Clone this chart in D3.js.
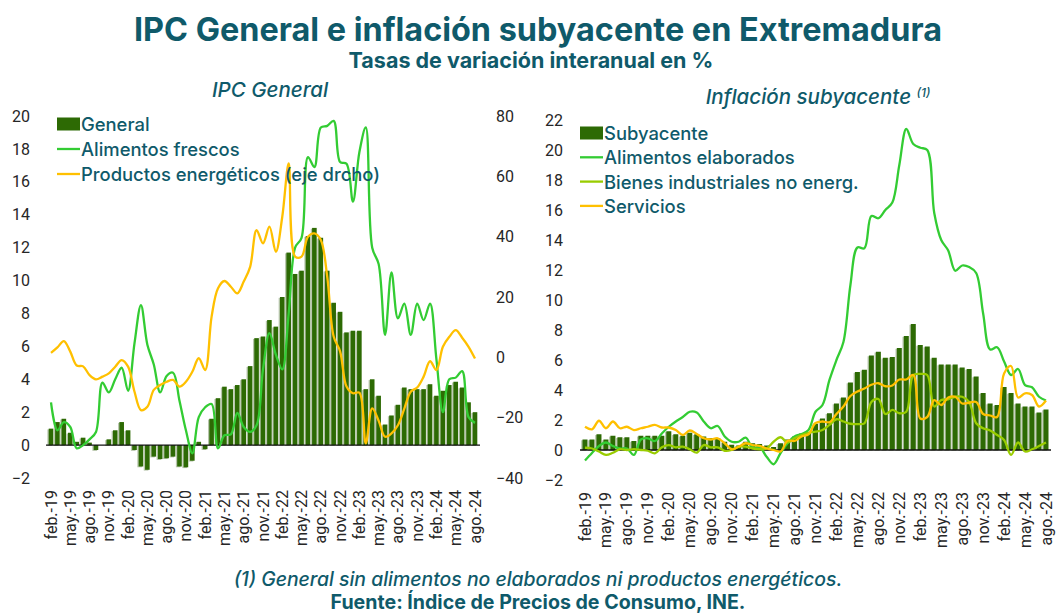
<!DOCTYPE html>
<html>
<head>
<meta charset="utf-8">
<script src="https://cdn.jsdelivr.net/npm/d3@7"></script>
<style>
  body { margin: 0; background: #fff; }
  svg { display: block; }
  .teal { fill: #0f5a6a; font-family: Inter, 'Open Sans', sans-serif; }
  .tick-y { font-family: Roboto, sans-serif; font-size: 16px; fill: #262626; }
  .tick-x { font-family: Roboto, sans-serif; font-size: 16px; fill: #262626; }
</style>
</head>
<body>
<div id="chart"></div>
<script>
// Categories: feb.-19 ... ago.-24 (monthly)
const monthNames = ['ene.', 'feb.', 'mar.', 'abr.', 'may.', 'jun.', 'jul.', 'ago.', 'sep.', 'oct.', 'nov.', 'dic.'];
const months = [];
for (let y = 19; y <= 24; y++) {
    monthNames.forEach((m, i) => {
        if ((y === 19 && i < 1) || (y === 24 && i > 7)) return;
        months.push(m + '-' + y);
    });
}
const tickLabels = ['feb.-19', 'may.-19', 'ago.-19', 'nov.-19', 'feb.-20', 'may.-20', 'ago.-20', 'nov.-20',
    'feb.-21', 'may.-21', 'ago.-21', 'nov.-21', 'feb.-22', 'may.-22', 'ago.-22', 'nov.-22',
    'feb.-23', 'may.-23', 'ago.-23', 'nov.-23', 'feb.-24', 'may.-24', 'ago.-24'];

// IPC General panel
const general = [1.0, 1.4, 1.6, 0.75, 0.2, 0.45, 0.15, -0.3, 0.0, 0.35, 0.9, 1.4, 0.9, -0.3, -1.3, -1.5, -0.7, -0.85, -0.8, -0.7,
    -1.3, -1.35, -0.95, 0.2, -0.25, 1.6, 2.85, 3.55, 3.4, 3.65, 4.0, 4.8, 6.5, 6.6, 7.6, 7.2, 9.0, 11.7, 10.4, 10.6,
    12.7, 13.2, 12.6, 10.6, 8.65, 8.1, 6.85, 6.95, 6.95, 3.4, 4.0, 3.0, 1.25, 1.8, 2.45, 3.5, 3.4, 3.4, 3.4, 3.7,
    3.0, 3.3, 3.65, 3.85, 3.5, 2.6, 2.0];
const frescos = [2.6, 0.9, 1.4, 1.1, -0.2, 0.0, 0.35, 0.8, 3.8, 3.2, 4.0, 4.7, 3.3, 6.2, 8.5, 6.1, 4.9, 3.2, 4.2, 4.4,
    2.7, 0.9, -0.5, 1.7, 2.3, 2.5, -0.2, 0.6, 0.65, 1.95, 1.1, 0.8, 1.2, 4.6, 6.8, 5.5, 4.6, 8.0, 12.0, 12.6,
    17.5, 16.9, 19.3, 19.4, 19.7, 17.2, 17.1, 14.8, 17.8, 19.3, 12.0, 11.0, 6.7, 10.5, 7.7, 8.6, 6.7, 8.6, 7.6, 8.6,
    5.2, 2.0, 4.0, 4.1, 4.5, 1.7, 1.35];
const energeticos = [1.5, 3.3, 5.4, 1.9, -2.7, -3.0, -5.9, -7.3, -6.4, -5.3, -3.1, -0.9, -3.1, -11.4, -17.5, -16.4, -10.8, -9.2, -8.1, -7.5,
    -9.7, -8.1, -4.8, -0.3, -4.2, 13.5, 22.9, 25.3, 23.4, 21.2, 25.1, 30.0, 42.2, 37.8, 43.3, 35.0, 46.6, 64.3, 33.4, 33.4,
    40.0, 41.1, 38.9, 26.7, 6.9, 2.0, -9.7, -11.9, -11.7, -28.5, -16.9, -21.0, -26.3, -25.2, -22.5, -17.0, -11.4, -10.0, -6.4, -1.3,
    -4.2, 3.5, 6.8, 9.0, 6.5, 3.5, -0.4];

// Inflación subyacente panel
const subyacente = [0.7, 0.7, 1.05, 0.7, 0.95, 0.85, 0.85, 0.6, 0.95, 0.95, 0.95, 0.95, 1.25, 1.05, 0.95, 1.15, 1.05, 0.9, 0.8, 0.8,
    0.55, 0.35, 0.3, 0.55, 0.45, 0.4, 0.3, 0.2, 0.45, 0.7, 0.9, 1.1, 1.2, 1.75, 2.1, 2.45, 3.1, 3.5, 4.5, 5.2,
    5.35, 6.3, 6.55, 6.15, 6.2, 6.8, 7.6, 8.4, 7.0, 6.9, 6.15, 5.7, 5.7, 5.7, 5.5, 5.4, 4.9, 3.8, 3.1, 3.0,
    4.2, 3.8, 3.1, 2.9, 2.9, 2.5, 2.7];
const elaborados = [-0.7, -0.2, 0.27, 0.5, 0.27, 0.1, 0.1, -0.33, 0.7, 0.78, 0.6, 1.1, 1.55, 1.9, 2.2, 2.55, 2.5, 1.9, 1.45, 1.6,
    0.9, 0.55, 0.55, 0.82, 0.18, 0.18, -0.45, -0.95, -0.2, 0.45, 0.9, 1.07, 1.33, 2.55, 3.0, 4.67, 6.0, 7.2, 11.0, 13.5,
    13.45, 15.6, 15.45, 16.0, 16.5, 19.0, 21.4, 20.4, 20.15, 20.0, 15.8, 14.0, 13.3, 11.95, 12.3, 12.2, 11.8, 9.1, 6.7, 6.85,
    5.9, 5.0, 5.4, 4.33, 4.18, 3.55, 3.3];
const bienes = [0.15, 0.1, -0.1, -0.33, -0.18, 0.05, 0.0, 0.05, 0.0, -0.05, -0.22, 0.18, 0.33, 0.18, 0.22, 0.05, -0.18, 0.33, 0.18, 0.18,
    -0.05, 0.0, 0.22, 0.22, 0.1, 0.05, 0.1, 0.55, 0.85, 0.5, 0.78, 1.0, 1.15, 1.22, 1.33, 1.67, 2.05, 1.9, 1.75, 1.73,
    1.78, 3.2, 3.4, 2.4, 2.67, 2.45, 2.55, 5.0, 5.07, 5.0, 2.9, 3.33, 3.38, 3.55, 3.55, 3.2, 1.78, 1.45, 1.3, 1.0,
    0.67, -0.33, 0.5, -0.1, 0.05, 0.27, 0.5];
const servicios = [1.55, 1.38, 1.95, 1.45, 1.9, 1.45, 1.55, 1.33, 1.45, 1.55, 1.67, 1.5, 1.5, 1.33, 1.0, 1.3, 1.07, 0.78, 0.7, 0.78,
    0.45, 0.05, 0.22, 0.45, 0.33, 0.27, 0.1, 0.0, -0.1, 0.62, 0.6, 0.9, 1.05, 1.8, 1.9, 1.85, 2.4, 2.9, 3.6, 3.9,
    4.1, 4.35, 4.45, 4.25, 4.3, 4.7, 4.7, 5.0, 2.1, 2.2, 3.33, 3.0, 3.5, 3.55, 3.1, 3.15, 3.2, 2.4, 2.3, 2.2,
    5.1, 5.6, 3.5, 3.78, 3.67, 2.9, 3.3];

const leftTicks = d3.range(-2, 21, 2);
const rightTicks = d3.range(-40, 81, 20);
const coreTicks = d3.range(-2, 23, 2);

const colors = {
    bar: '#2d6a04',
    barShadow: '#b7c5ab',
    green: '#33cc33',
    lime: '#99cc00',
    orange: '#ffc000',
    text: '#0f5a6a'
};

class ComboChart {
    constructor(svg, config) {
        this.svg = svg;
        this.config = config;
        this.initVis();
    }

    initVis() {
        let vis = this;
        const c = vis.config;

        vis.xScale = d3.scalePoint().domain(months).range(c.xRange);
        vis.yScale = d3.scaleLinear().domain(c.yDomain).range(c.yRange);
        if (c.y2Domain) {
            vis.y2Scale = d3.scaleLinear().domain(c.y2Domain).range(c.yRange);
        }
        vis.g = vis.svg.append('g');
        vis.renderVis();
    }

    renderVis() {
        let vis = this;
        const c = vis.config;
        const y0 = vis.yScale(0);

        // left value axis (labels only)
        const yAxis = d3.axisLeft(vis.yScale).tickValues(c.yTicks).tickSize(0).tickPadding(0);
        vis.g.append('g')
            .attr('transform', `translate(${c.yLabelX},0)`)
            .call(yAxis)
            .call(g => g.select('.domain').remove())
            .call(g => g.selectAll('text').attr('class', 'tick-y').attr('fill', null).attr('font-family', null).attr('font-size', null));

        if (vis.y2Scale) {
            const y2Axis = d3.axisRight(vis.y2Scale).tickValues(c.y2Ticks).tickSize(0).tickPadding(0);
            vis.g.append('g')
                .attr('transform', `translate(${c.y2LabelX},0)`)
                .call(y2Axis)
                .call(g => g.select('.domain').remove())
                .call(g => g.selectAll('text').attr('class', 'tick-y').attr('fill', null).attr('font-family', null).attr('font-size', null));
        }

        // bars with soft shadow
        const bars = months.map((m, i) => ({ m, v: c.bars[i] }));
        vis.g.selectAll('.bar-shadow')
            .data(bars)
            .join('rect')
            .attr('class', 'bar-shadow')
            .attr('x', d => vis.xScale(d.m) - c.barWidth / 2 - 1.3)
            .attr('width', c.barWidth)
            .attr('y', d => Math.min(vis.yScale(d.v), y0) + 0.8)
            .attr('height', d => Math.abs(vis.yScale(d.v) - y0))
            .attr('fill', colors.barShadow);
        vis.g.selectAll('.bar')
            .data(bars)
            .join('rect')
            .attr('class', 'bar')
            .attr('x', d => vis.xScale(d.m) - c.barWidth / 2)
            .attr('width', c.barWidth)
            .attr('y', d => Math.min(vis.yScale(d.v), y0))
            .attr('height', d => Math.abs(vis.yScale(d.v) - y0))
            .attr('fill', colors.bar);

        // zero line
        vis.g.append('line')
            .attr('x1', c.xRange[0] - 5).attr('x2', c.xRange[1] + 5)
            .attr('y1', y0).attr('y2', y0)
            .attr('stroke', '#111').attr('stroke-width', 1.4);

        // smoothed lines
        c.lines.forEach(s => {
            const scale = s.axis === 'y2' ? vis.y2Scale : vis.yScale;
            const line = d3.line()
                .x((d, i) => vis.xScale(months[i]))
                .y(d => scale(d))
                .curve(d3.curveCatmullRom.alpha(0.5));
            vis.g.append('path')
                .datum(s.values)
                .attr('d', line)
                .attr('fill', 'none')
                .attr('stroke', s.color)
                .attr('stroke-width', 2.3)
                .attr('stroke-linejoin', 'round');
        });

        // rotated category labels
        vis.g.selectAll('.tick-x')
            .data(tickLabels)
            .join('text')
            .attr('class', 'tick-x')
            .attr('text-anchor', 'end')
            .attr('dominant-baseline', 'central')
            .attr('transform', d => `translate(${vis.xScale(d)},${c.xLabelY}) rotate(-90)`)
            .text(d => d);

        // legend
        c.legend.forEach((item, i) => {
            const ly = c.legendY + i * c.legendStep;
            if (item.type === 'bar') {
                vis.g.append('rect')
                    .attr('x', c.legendX).attr('y', ly - 6.5)
                    .attr('width', 23).attr('height', 13)
                    .attr('fill', colors.bar);
            } else {
                vis.g.append('line')
                    .attr('x1', c.legendX).attr('x2', c.legendX + 23)
                    .attr('y1', ly).attr('y2', ly)
                    .attr('stroke', item.color).attr('stroke-width', 2.3);
            }
            vis.g.append('text')
                .attr('class', 'teal')
                .attr('x', c.legendX + 24)
                .attr('y', ly)
                .attr('dominant-baseline', 'central')
                .style('font-size', '18.4px')
                .style('font-weight', 500)
                .text(item.label);
        });
    }
}

const svg = d3.select('#chart')
    .append('svg')
    .attr('width', 1061)
    .attr('height', 614);

// titles
svg.append('text').attr('class', 'teal')
    .attr('x', 538).attr('y', 41).attr('text-anchor', 'middle')
    .style('font-size', '32.4px').style('font-weight', 700)
    .text('IPC General e inflación subyacente en Extremadura');
svg.append('text').attr('class', 'teal')
    .attr('x', 531).attr('y', 68).attr('text-anchor', 'middle')
    .style('font-size', '21.5px').style('font-weight', 700)
    .text('Tasas de variación interanual en %');
svg.append('text').attr('class', 'teal')
    .attr('x', 270).attr('y', 97).attr('text-anchor', 'middle')
    .style('font-size', '20.5px').style('font-style', 'italic').style('font-weight', 500)
    .text('IPC General');
const sub = svg.append('text').attr('class', 'teal')
    .attr('x', 818).attr('y', 104).attr('text-anchor', 'middle')
    .style('font-size', '20.5px').style('font-style', 'italic').style('font-weight', 500);
sub.append('tspan').text('Inflación subyacente ');
sub.append('tspan').attr('dy', -7).style('font-size', '12px').text('(1)');

new ComboChart(svg, {
    xRange: [51, 475],
    yDomain: [-2, 20], yRange: [478, 116], yTicks: leftTicks, yLabelX: 30,
    y2Domain: [-40, 80], y2Ticks: rightTicks, y2LabelX: 496,
    barWidth: 4.6,
    bars: general,
    lines: [
        { values: frescos, color: colors.green, axis: 'y' },
        { values: energeticos, color: colors.orange, axis: 'y2' }
    ],
    xLabelY: 490,
    legendX: 57, legendY: 124, legendStep: 25,
    legend: [
        { type: 'bar', label: 'General' },
        { type: 'line', color: colors.green, label: 'Alimentos frescos' },
        { type: 'line', color: colors.orange, label: 'Productos energéticos (eje drcho)' }
    ]
});

new ComboChart(svg, {
    xRange: [585, 1046],
    yDomain: [-2, 22], yRange: [480, 120], yTicks: coreTicks, yLabelX: 563,
    barWidth: 5,
    bars: subyacente,
    lines: [
        { values: elaborados, color: colors.green, axis: 'y' },
        { values: bienes, color: colors.lime, axis: 'y' },
        { values: servicios, color: colors.orange, axis: 'y' }
    ],
    xLabelY: 492,
    legendX: 580, legendY: 133, legendStep: 24.3,
    legend: [
        { type: 'bar', label: 'Subyacente' },
        { type: 'line', color: colors.green, label: 'Alimentos elaborados' },
        { type: 'line', color: colors.lime, label: 'Bienes industriales no energ.' },
        { type: 'line', color: colors.orange, label: 'Servicios' }
    ]
});

// footnotes
svg.append('text').attr('class', 'teal')
    .attr('x', 538).attr('y', 586).attr('text-anchor', 'middle')
    .style('font-size', '19.4px').style('font-style', 'italic').style('font-weight', 500)
    .text('(1) General sin alimentos no elaborados ni productos energéticos.');
svg.append('text').attr('class', 'teal')
    .attr('x', 538).attr('y', 609).attr('text-anchor', 'middle')
    .style('font-size', '19.6px').style('font-weight', 700)
    .text('Fuente: Índice de Precios de Consumo, INE.');
</script>
</body>
</html>
